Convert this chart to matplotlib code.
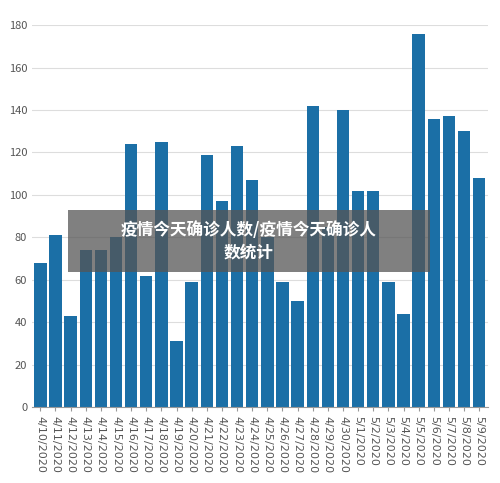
import matplotlib
matplotlib.use("Agg")
import matplotlib.pyplot as plt
from matplotlib.patches import Rectangle

dates = ["4/10/2020","4/11/2020","4/12/2020","4/13/2020","4/14/2020","4/15/2020","4/16/2020","4/17/2020",
         "4/18/2020","4/19/2020","4/20/2020","4/21/2020","4/22/2020","4/23/2020","4/24/2020","4/25/2020",
         "4/26/2020","4/27/2020","4/28/2020","4/29/2020","4/30/2020","5/1/2020","5/2/2020","5/3/2020",
         "5/4/2020","5/5/2020","5/6/2020","5/7/2020","5/8/2020","5/9/2020"]
values = [68, 81, 43, 74, 74, 80, 124, 62, 125, 31, 59, 119, 97, 123, 107, 80,
          59, 50, 142, 85, 140, 102, 102, 59, 44, 176, 136, 137, 130, 108]
yticks = [0, 20, 40, 60, 80, 100, 120, 140, 160, 180]
title = "疫情今天确诊人数/疫情今天确诊人\n数统计"

plt.rcParams['font.family'] = ['Noto Sans CJK SC', 'DejaVu Sans']
fig = plt.figure(figsize=(5, 4.83), dpi=100)
ax = fig.add_axes([0.064, 0.157, 0.911, 0.791])
x = list(range(len(values)))
ax.bar(x, values, width=0.82, color="#1b6fa6", zorder=2)
ax.set_xlim(-0.55, len(values) - 0.45)
ax.set_ylim(0, 180)
ax.set_yticks(yticks)
ax.set_xticks(x)
ax.set_xticklabels(dates, rotation=270, fontsize=8, color="#555555", family=['DejaVu Sans'])
ax.tick_params(axis='y', labelsize=8, colors="#555555", length=0)
ax.tick_params(axis='x', length=3, color="#999999")
ax.grid(axis='y', color="#dddddd", lw=0.8, zorder=0)
for s in ["top", "right", "left"]:
    ax.spines[s].set_visible(False)
ax.spines["bottom"].set_color("#999999")

fig.patches.append(Rectangle((68/500, 1-272/483), 362/500, 62/483, transform=fig.transFigure,
                             facecolor="#555555", alpha=0.75, zorder=5))
fig.text(249/500, 1-241/483, title, ha='center', va='center', color='white', fontsize=12,
         fontweight='bold', zorder=6, linespacing=1.3)
fig.savefig("out.png", dpi=100)
